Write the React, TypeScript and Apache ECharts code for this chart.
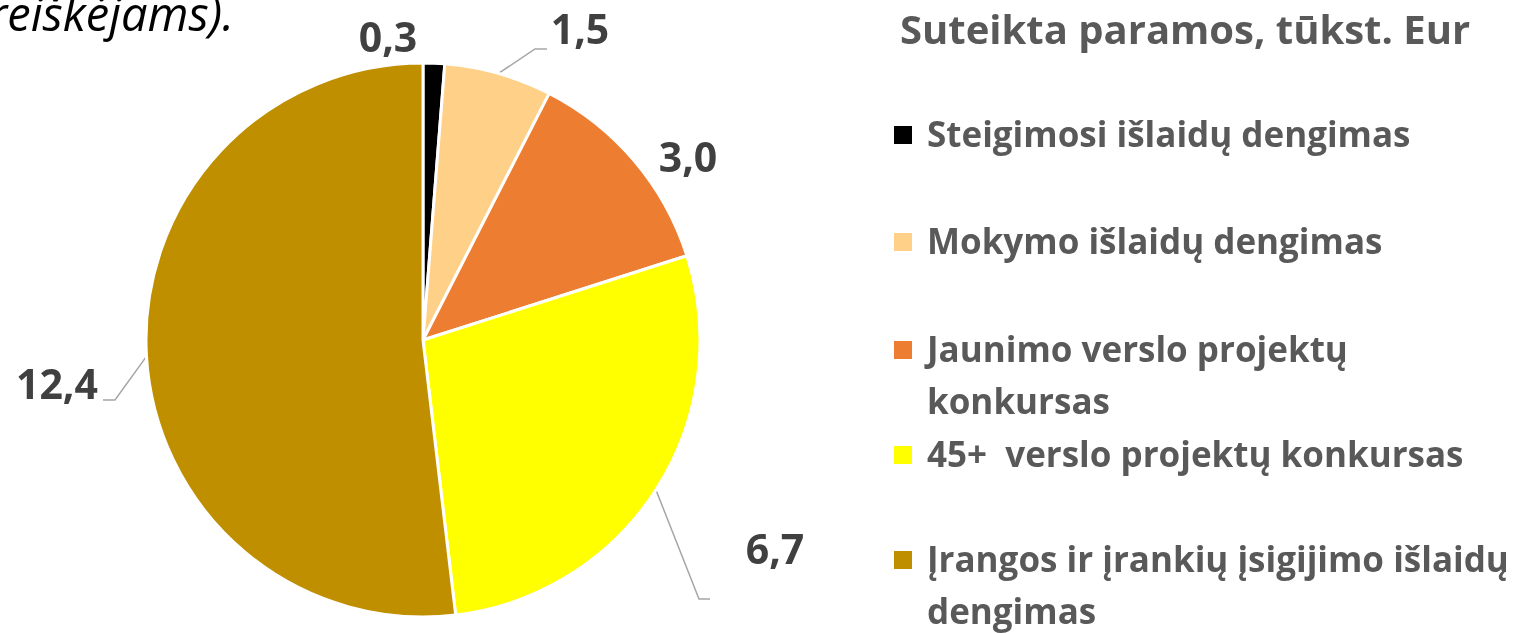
import React, { useEffect, useRef } from "react";
import * as echarts from "echarts";

const categories = [
  "Steigimosi išlaidų dengimas",
  "Mokymo išlaidų dengimas",
  "Jaunimo verslo projektų\nkonkursas",
  "45+  verslo projektų konkursas",
  "Įrangos ir įrankių įsigijimo išlaidų\ndengimas",
];
const values = [0.3, 1.5, 3.0, 6.7, 12.4];
const colors = ["#000000", "#FFD188", "#ED7D31", "#FFFF00", "#BF8F00"];
const legendTitle = "Suteikta paramos, tūkst. Eur";
const topText = "pareiškėjams).";

// label anchor positions (layout) and leader line elbows
const labelPos = [
  [388, 36],
  [580, 28],
  [688, 156],
  [775, 548],
  [57, 383],
];
const labelElbows: (number[][] | null)[] = [
  null,
  [[535, 49], [547, 49]],
  null,
  [[699, 599], [710, 599]],
  [[115, 400], [103, 400]],
];
const legendY = [135, 242, 350, 455, 560];

const FONT = "'Open Sans', Lato, sans-serif";

export default function App() {
  const ref = useRef<HTMLDivElement>(null);
  useEffect(() => {
    document.body.style.margin = "0";
    const chart = echarts.init(ref.current!, null, { renderer: "svg" });

    const graphics: any[] = [
      {
        type: "text",
        x: 234,
        y: 13,
        style: {
          text: topText,
          font: `italic 47px ${FONT}`,
          fill: "#000000",
          align: "right",
          verticalAlign: "middle",
        },
      },
      {
        type: "text",
        x: 900,
        y: 28,
        style: {
          text: legendTitle,
          font: `bold 40px ${FONT}`,
          fill: "#595959",
          align: "left",
          verticalAlign: "middle",
        },
      },
    ];
    categories.forEach((c, i) => {
      graphics.push({
        type: "rect",
        shape: { x: 894, y: legendY[i] - 9, width: 18, height: 18 },
        style: { fill: colors[i] },
      });
      graphics.push({
        type: "text",
        x: 927,
        y: legendY[i] - 28,
        style: {
          text: c,
          font: `bold 35px ${FONT}`,
          lineHeight: 52,
          fill: "#595959",
          align: "left",
          verticalAlign: "top",
        },
      });
    });

    chart.setOption({
      animation: false,
      graphic: graphics,
      series: [
        {
          type: "pie",
          center: [423, 340],
          radius: 277,
          startAngle: 90,
          clockwise: true,
          avoidLabelOverlap: false,
          emphasis: { disabled: true },
          itemStyle: { borderColor: "#ffffff", borderWidth: 3 },
          label: {
            show: true,
            position: "outside",
            formatter: (p: any) => p.value.toFixed(1).replace(".", ","),
            fontFamily: FONT,
            fontWeight: "bold",
            fontSize: 41,
            color: "#404040",
          },
          labelLine: {
            show: true,
            length: 20,
            length2: 10,
            lineStyle: { color: "#A6A6A6", width: 1.5 },
          },
          labelLayout: (params: any) => {
            const i = params.dataIndex;
            const res: any = {
              x: labelPos[i][0],
              y: labelPos[i][1],
              align: "center",
              verticalAlign: "middle",
            };
            const el = labelElbows[i];
            if (el && params.labelLinePoints) {
              res.labelLinePoints = [params.labelLinePoints[0], ...el];
            }
            return res;
          },
          data: categories.map((c, i) => ({
            name: c,
            value: values[i],
            itemStyle: { color: colors[i] },
            labelLine: { show: labelElbows[i] != null },
          })),
        },
      ],
    });
    return () => chart.dispose();
  }, []);
  return (
    <div
      ref={ref}
      style={{ position: "fixed", left: 0, top: 0, width: 1513, height: 633 }}
    />
  );
}
